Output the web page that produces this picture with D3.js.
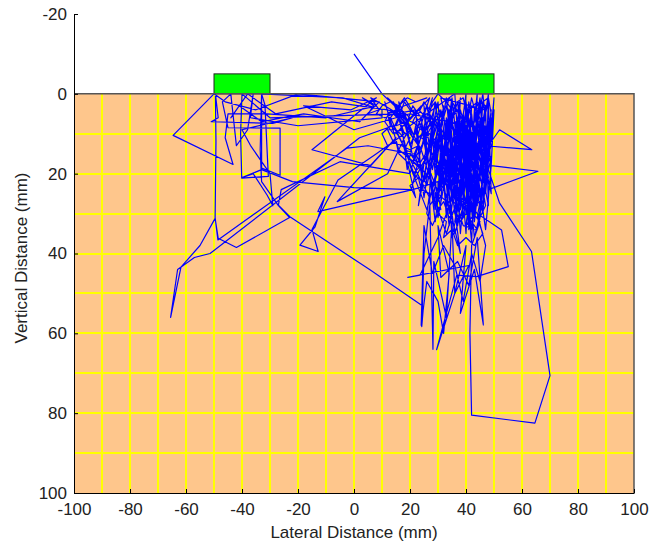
<!DOCTYPE html>
<html>
<head>
<meta charset="utf-8">
<script src="https://cdn.jsdelivr.net/npm/d3@7"></script>
<style>
  body { margin: 0; background: #fff; }
  svg { display: block; font-family: "Liberation Sans", Arial, sans-serif; }
  .axis text { font-size: 17px; fill: #222; }
</style>
</head>
<body>
<svg id="chart" width="649" height="544"></svg>
<script>
const xTicks = [-100, -80, -60, -40, -20, 0, 20, 40, 60, 80, 100];
const yTicks = [-20, 0, 20, 40, 60, 80, 100];
const gridX = [-90, -80, -70, -60, -50, -40, -30, -20, -10, 0, 10, 20, 30, 40, 50, 60, 70, 80, 90];
const gridY = [10, 20, 30, 40, 50, 60, 70, 80, 90];
// electrode pads: [x0, x1, top depth]
const pads = [[-50, -30, -5], [30, 50, -5]];
// tracked tip position [lateral, vertical] in mm
const track = [
  [0,-10],[10,0],[16,4],[12,1],[20,6],[15,10],[24,3],[18,8],[27,1],[22,12],[30,5],[26,9],
  [12,4],[-8,2],[-28,5],[-38,0],[-44,6],[-41,3],[-33,7],[-18,5],[2,7],[9,2],[-20,0],[-35,4],[-46,2],[-50,0],[-64.6,10.4],[-43.2,17.7],[-46,11],[-45,5],[-31,5],[-10,6],[8,3],
  [3,1],[7,3],[5,5],[9,4],[6,1],[11,3],
  [18,6],[24,14],[29,3],[33,18],[35,2],[34,24],[38,1],[37,16],[40,0],[39,27],[42,3],[41,19],[44,0],[43,22],[46,2],[45,14],[48,0],[47,25],[50,1],[49,12],
  [52,9],[63.5,14],[47,13],[50,4],[49,18],[65.7,19.4],[48,24],[46,7],
  [36,7],[30,12],[32,3],[29,21],[34,10],[38,29],[40,8],[43,31],[45,6],[47,18],[44,9],[42,26],[39,5],[36,21],[33,6],[31,27],[35,13],[37,33],[41,11],[44,28],[46,10],[48,21],[45,1],[42,15],[38,4],[35,19],[32,9],[30,24],
  [20,15],[5,13],[-2.5,13.6],[-48.6,36.6],[-49.6,31],[-49.3,12],[-49.5,0],[-48.5,6],[-51,7],[-29,7.4],[-22,6],[-40,9],[-37,12.9],[-33,17],[-30,20],[-29,28],[-31,25.4],[-36,20],[-40,21],[-33,19],[-22,22],[0,23.5],[20.5,24],
  [27,5],[29,17],[33,1],[36,26],[39,13],[41,34],[43,17],[46,30],[49,4],[47,16],[44,23],[40,2],[37,11],[34,30],[31,8],[28,19],[25,3],[26,15],[30,2],[32,22],[36,14],[38,35],[40,20],[42,5],[45,26],[48,13],[46,0],[43,12],[40,30],[37,6],[34,16],[30,31],[28,10],[24,20],[22,4],
  [15,5],[-30,6],[-40,0],[-40.5,10],[-40.1,21.1],[-30.6,20.7],[-31.8,2.8],[-33,0],[-33,18.6],[-26.4,20.4],[-26.4,8.6],[-45,8.5],[-47,2],[-44,0],[-42,13],[-38,9],[-36,0],[-37,6],[-20,8],[10,6],
  [10,4],[-4,1],[-33,0],[-33.5,14],[-33,22],[-27,28],[-23,31],[-42,38.5],[-48.5,36.2],[-49.6,31.2],[-55,38],[-61.8,43.4],[-65.5,56],[-63,44],[-57,41],[-51.4,40],[2,11],[14,8],
  [27,26],[33,13],[35,36],[39,22],[41,6],[44,19],[47,34],[49,18],[45,9],[42,1],[38,17],[35,8],[31,20],[26,12],[23,28],[29,6],[32,14],[36,3],[41,24],[43,8],[45,21],[48,7],[46,27],[43,36],[40,15],[37,25],[34,4],[29,29],[25,9],[21,16],[18,5],[23,13],[28,1],
  [20,20],[-5,17],[-26,24],[-27,27.9],[-22.9,30.8],[5.7,44.1],[24.8,53.3],[24.2,58.3],[25,40],[27,28],
  [35,20],[38,10],[42,37],[44,4],[47,11],[45,31],[41,27],[39,7],[36,30],[33,11],[28,23],[24,14],[19,9],[15,3],[20,18],[26,29],[31,16],[37,2],[40,23],[43,14],[46,24],[44,34],[39,33],[34,22],[30,7],[27,14],[22,21],[17,12],[13,6],[18,1],[24,8],[29,27],[33,35],[38,24],[42,10],[45,17],[48,28],[47,4],
  [31,1],[32,4],[30,7],[32,10],[31,14],[33,17],[32,21],[34,24],[33,28],[35,26],[34,22],[36,19],[35,15],[37,12],[36,8],[38,5],[37,2],[39,1],[40,4],[39,8],[41,11],[40,15],[42,18],[41,22],[43,25],[42,29],[44,27],[43,23],[45,20],[44,16],[46,13],[45,9],[47,6],[46,2],[48,1],[49,5],[48,9],[49,13],[47,17],[48,21],[46,24],[47,28],[45,31],[44,34],[42,32],[40,30],[38,32],[36,29],[34,31],[32,27],[30,29],[29,25],[31,22],[29,18],[30,15],[28,11],[29,8],[27,5],[28,2],[30,0],[33,2],[35,4],[34,7],[36,10],[35,13],[37,16],[36,20],[38,22],[37,26],[39,28],[41,26],[40,23],[42,21],[41,17],[43,14],[42,10],[44,8],[43,4],[45,2],[47,3],[46,7],[48,11],[47,14],[49,16],[48,19],[46,18],[44,21],[45,24],[43,27],[41,29],[39,25],[38,19],[40,17],[39,13],[37,10],[38,6],[36,3],[34,1],[32,6],[33,9],[31,12],[33,15],[34,19],[32,24],[30,27],
  [30,22],[21,24],[-12.9,29.5],[-10.4,25.8],[-13.9,33.3],[-19.3,37.9],[-12.8,39.5],[-15,34],[-5.7,21.6],[8,15],[18,10],
  [14,2],[17,5],[15,8],[19,7],[21,3],[24,6],[22,10],[26,12],[25,8],[28,6],[30,9],[29,13],[32,11],[34,14],[31,17],[33,20],[36,18],[35,22],[38,24],[37,20],[40,21],[39,17],[42,19],[41,23],[44,25],[43,21],[46,22],[45,18],[47,15],[44,14],[42,11],[45,9],[43,6],[46,4],[44,2],[41,4],[39,7],[37,4],[35,6],[33,3],[31,5],[29,2],[27,4],[25,2],[23,5],[20,4],[18,2],[16,6],[13,4],[11,7],[14,10],[17,9],[20,11],[18,14],[22,15],[24,18],[21,20],[25,22],[27,19],[29,23],[28,27],[31,29],[30,25],[33,27],[35,30],[34,26],[37,28],[36,32],[39,30],[38,26],[41,27],[40,33],[43,30],[42,28],[45,27],[44,31],[46,35],[43,38],[40,36],[37,38],[35,34],[32,36],[33,32],[30,30],[28,33],[26,30],[27,25],[24,24],[23,21],[20,23],[22,26],[19,17],[16,15],[15,12],[12,13],[10,10],[13,8],[12,5],[15,4],[18,3],
  [26,1],[22,2],[19,1],[16,3],[13,2],[10,3],[8,5],[11,6],[14,5],[17,7],[20,9],[18,11],[15,9],[12,9],[14,12],[17,13],[20,14],[23,13],[21,17],[24,19],[26,16],[25,12],[27,10],[24,9],[21,7],[23,4],[26,6],[28,8],
  [27,25],[28.2,64],[28.5,42],[33,56],[35,32],[36,50],[40,38],[38,55],[43,44],[46.2,57.9],[44,36],[41,48],[37,42],[31,46],[30,33],[34,45],[32,60],[30,52],[26,47],[24,58],[25,33],[28,45],[32,38],[36,43],[39,52],[42,40],[45,47],[47,38],[44,30],[52.7,34.1],[55.1,43.3],[43.8,45.8],[36.7,45.4],[29.5,64.1],[36,50],[41,43],[19.2,46],[23.6,45.4],[30,36],[34,28],[38,40],[35,24],
  [45,32],[42,38],[41.4,60],[42,80.5],[64.6,82.5],[70,70.6],[63.4,39.5],[52,27.4],[48,19],
  [46,6],[43,25],[40,11],[37,29],[34,7],[31,23],[28,12],[25,26],[22,8],[19,19],[16,2],[21,11],[26,3],[30,17],[33,26],[36,12],[39,31],[42,18],[45,2],[47,20],[44,27],[41,9],[38,21],[35,1],[32,15],[29,32],[27,20],[24,6],[20,13],[17,4],[14,9],[11,2],[16,14],[23,18],[30,10],[34,33],[37,18],[40,5],[43,29],[46,15],[49,25],[48,2],[44,13],[41,31],[38,8],[35,27],[32,5],[29,14],[26,23],[22,16],[27,9],[33,3],[39,16],[42,34],[45,12],[48,9],
  [20,5],[0,9],[-18,3],[-1,4],[8,1],[-15,14],[6,18],[15,11],[-6,27],[12,20],[20,8],
  [36,0],[38,20],[40,3],[42,24],[44,7],[46,19],[43,4],[41,30],[39,11],[37,23],[35,5],[33,31],[31,12],[30,26],[34,14],[38,27],[41,2],[44,17],[47,8],[45,29],[42,12],[40,35],[37,9],[34,19],[31,4],[28,16],[25,22],[29,2],[33,20],[36,35],[40,26],[43,10],[47,23],[49,6],[46,14],[43,32],[40,18],[37,4]
];

const svg = d3.select('#chart');
const x = d3.scaleLinear().domain([-100, 100]).range([74, 634]);
const y = d3.scaleLinear().domain([-20, 100]).range([14, 493]);

// tissue area (below surface)
svg.append('rect')
  .attr('x', x(-100)).attr('y', y(0))
  .attr('width', x(100) - x(-100)).attr('height', y(100) - y(0))
  .attr('fill', '#fec68c');

// grid snapped to whole pixels so it stays bright like the original
const snap = v => Math.round(v);
const grid = svg.append('g').attr('stroke', '#ffff00').attr('stroke-width', 2)
  .attr('shape-rendering', 'crispEdges');
grid.selectAll('.gx').data(gridX).enter().append('line')
  .attr('x1', d => snap(x(d))).attr('x2', d => snap(x(d)))
  .attr('y1', y(0)).attr('y2', y(100));
grid.selectAll('.gy').data(gridY).enter().append('line')
  .attr('x1', x(-100)).attr('x2', x(100))
  .attr('y1', d => snap(y(d))).attr('y2', d => snap(y(d)));

svg.selectAll('.pad').data(pads).enter().append('rect')
  .attr('class', 'pad')
  .attr('x', d => x(d[0])).attr('y', d => y(d[2]))
  .attr('width', d => x(d[1]) - x(d[0])).attr('height', d => y(0) - y(d[2]))
  .attr('fill', '#00ff00').attr('stroke', '#222').attr('stroke-width', 1);

const line = d3.line().x(d => x(d[0])).y(d => y(d[1]));
svg.append('path')
  .datum(track)
  .attr('d', line)
  .attr('fill', 'none')
  .attr('stroke', '#0000ff')
  .attr('stroke-width', 1.2)
  .attr('stroke-linejoin', 'round');

// box edges at surface and right side
svg.append('path')
  .attr('d', `M${x(-100)},${y(0)}H${x(100)}V${y(100)}`)
  .attr('fill', 'none').attr('stroke', '#555').attr('stroke-width', 1.5);

svg.append('g')
  .attr('class', 'axis')
  .attr('transform', `translate(0,${y(100)})`)
  .call(d3.axisBottom(x).tickValues(xTicks).tickFormat(d => String(d))
    .tickSizeInner(-4).tickSizeOuter(0).tickPadding(10));

svg.append('g')
  .attr('class', 'axis')
  .attr('transform', `translate(${x(-100)},0)`)
  .call(d3.axisLeft(y).tickValues(yTicks).tickFormat(d => String(d))
    .tickSizeInner(-4).tickSizeOuter(0).tickPadding(7));

svg.selectAll('.axis path').attr('stroke', '#000');
svg.selectAll('.axis line').attr('stroke', '#000');

svg.append('text')
  .attr('x', x(0)).attr('y', 538)
  .attr('text-anchor', 'middle')
  .attr('font-size', 17).attr('fill', '#222')
  .text('Lateral Distance (mm)');

svg.append('text')
  .attr('transform', 'translate(27,258) rotate(-90)')
  .attr('text-anchor', 'middle')
  .attr('font-size', 17).attr('fill', '#222')
  .text('Vertical Distance (mm)');
</script>
</body>
</html>
